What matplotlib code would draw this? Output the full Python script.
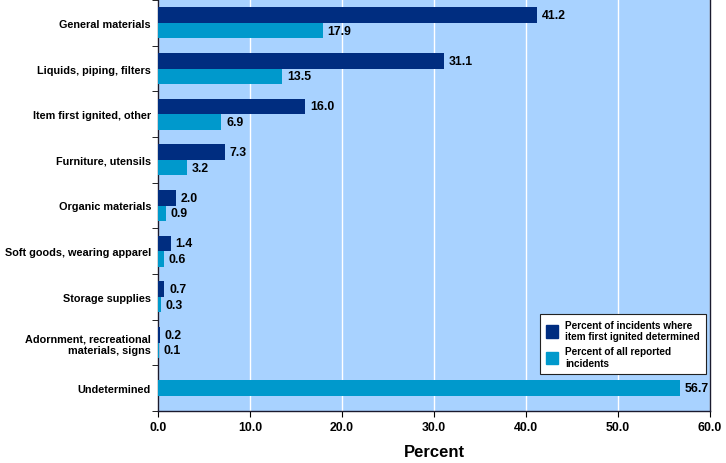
import numpy as np
import matplotlib.pyplot as plt

# data
categories = ["General materials", "Liquids, piping, filters", "Item first ignited, other",
              "Furniture, utensils", "Organic materials", "Soft goods, wearing apparel",
              "Storage supplies", "Adornment, recreational\nmaterials, signs", "Undetermined"]
determined = [41.2, 31.1, 16.0, 7.3, 2.0, 1.4, 0.7, 0.2, None]
all_reported = [17.9, 13.5, 6.9, 3.2, 0.9, 0.6, 0.3, 0.1, 56.7]
xticks = [0, 10, 20, 30, 40, 50, 60]

dark = "#002D80"
light = "#0099CC"
bg = "#A8D2FF"

plt.rcParams['font.family'] = ['Liberation Sans', 'DejaVu Sans']
plt.rcParams['font.weight'] = 'bold'

fig = plt.figure(figsize=(7.26, 4.64), dpi=100)
ax = fig.add_axes([158 / 726, 1 - 412 / 464, 552 / 726, 411 / 464])
ax.set_facecolor(bg)

y = np.arange(len(categories))
h = 0.34
fs = 7.8
vfs = 8.8

for i in range(len(categories)):
    d = determined[i]
    a = all_reported[i]
    if d is None:
        ax.barh(y[i], a, height=h, color=light, zorder=3)
        ax.text(a + 0.5, y[i], f"{a:.1f}", va='center', ha='left', fontsize=vfs, fontweight='bold', zorder=4)
    else:
        ax.barh(y[i] - h / 2, d, height=h, color=dark, zorder=3)
        ax.barh(y[i] + h / 2, a, height=h, color=light, zorder=3)
        ax.text(d + 0.5, y[i] - h / 2, f"{d:.1f}", va='center', ha='left', fontsize=vfs, fontweight='bold', zorder=4)
        ax.text(a + 0.5, y[i] + h / 2, f"{a:.1f}", va='center', ha='left', fontsize=vfs, fontweight='bold', zorder=4)

ax.set_xlim(0, 60)
ax.set_ylim(len(categories) - 0.5, -0.5)
ax.set_xticks(xticks)
ax.set_xticklabels([f"{v:.1f}" for v in xticks], fontsize=vfs, fontweight='bold')
ax.set_yticks(y)
ax.set_yticklabels(categories, fontsize=fs, fontweight='bold')
ax.tick_params(axis='y', length=0, pad=5)
ax.set_yticks(np.arange(len(categories) + 1) - 0.5, minor=True)
ax.tick_params(axis='y', which='minor', length=4, direction='out')
ax.tick_params(axis='x', length=4, pad=3)

ax.xaxis.grid(True, color='white', linewidth=1)
ax.set_axisbelow(True)
for s in ['left', 'bottom', 'right']:
    ax.spines[s].set_color('#1a1a2e')
    ax.spines[s].set_linewidth(1)
ax.spines['top'].set_visible(False)

ax.set_xlabel("Percent", fontsize=12, fontweight='bold', labelpad=8)

h1 = plt.Rectangle((0, 0), 1, 1, color=dark)
h2 = plt.Rectangle((0, 0), 1, 1, color=light)
leg = ax.legend([h1, h2],
                ["Percent of incidents where\nitem first ignited determined",
                 "Percent of all reported\nincidents"],
                loc='lower right', bbox_to_anchor=(0.993, 0.09), borderaxespad=0,
                fontsize=7.2, frameon=True, fancybox=False, edgecolor='#222222',
                framealpha=1, handlelength=1.2, handleheight=1.6, borderpad=0.6,
                labelspacing=0.5, handletextpad=0.7)
leg.get_frame().set_linewidth(0.8)

fig.savefig("out.png", dpi=100)
